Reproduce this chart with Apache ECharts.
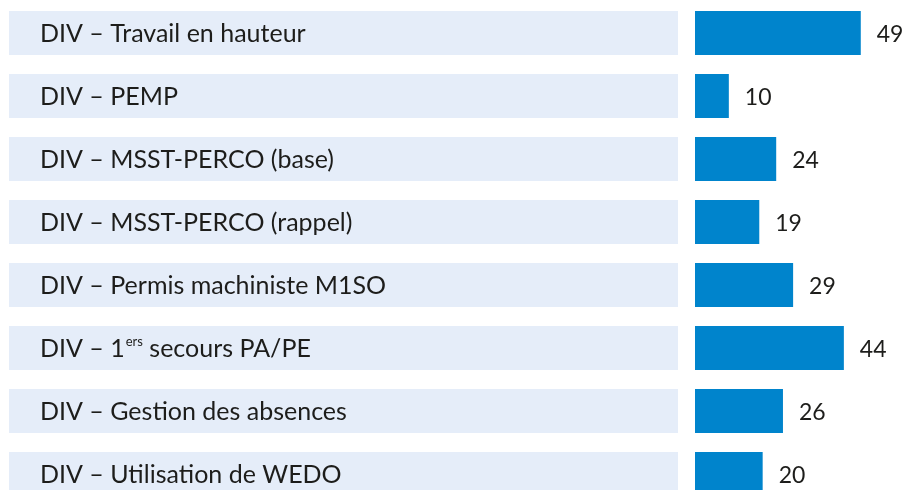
<!DOCTYPE html>
<html>
<head>
<meta charset="utf-8">
<script src="https://cdn.jsdelivr.net/npm/echarts@6/dist/echarts.min.js"></script>
<style>
  html, body { margin: 0; padding: 0; background: #fff; }
  #chart { width: 906px; height: 490px; }
</style>
</head>
<body>
<div id="chart"></div>
<script>
// formations DIV
var categories = [
    'DIV – Travail en hauteur',
    'DIV – PEMP',
    'DIV – MSST-PERCO (base)',
    'DIV – MSST-PERCO (rappel)',
    'DIV – Permis machiniste M1SO',
    'DIV – 1ers secours PA/PE',
    'DIV – Gestion des absences',
    'DIV – Utilisation de WEDO'
];
var values = [49, 10, 24, 19, 29, 44, 26, 20];
// bandeau de fond derrière chaque libellé
var rowFill = categories.map(function () { return 1; });

var fontFam = 'Lato, "Open Sans", sans-serif';

var chart = echarts.init(document.getElementById('chart'));

var option = {
    animation: false,
    grid: [
        // libellés (la dernière ligne dépasse du cadre, comme sur l'original)
        { left: 9, top: 1.5, width: 669, height: 504, outerBoundsMode: 'none' },
        // barres
        { left: 695, top: 1.5, width: 203, height: 504, outerBoundsMode: 'none' }
    ],
    xAxis: [
        { gridIndex: 0, type: 'value', min: 0, max: 1, show: false },
        { gridIndex: 1, type: 'value', min: 0, max: 60, show: false }
    ],
    yAxis: [
        { gridIndex: 0, type: 'category', data: categories, inverse: true, show: false },
        { gridIndex: 1, type: 'category', data: categories, inverse: true, show: false }
    ],
    series: [
        {
            type: 'bar',
            xAxisIndex: 0,
            yAxisIndex: 0,
            data: rowFill,
            barWidth: 44,
            itemStyle: { color: '#e5edf9' },
            label: {
                show: true,
                position: 'insideLeft',
                distance: 31,
                offset: [0, 1],
                formatter: function (p) {
                    var name = p.name;
                    if (name.indexOf('1ers') >= 0) {
                        var parts = name.split('1ers');
                        return '{t|' + parts[0] + '1}{sup|ers}{t|' + parts[1] + '}';
                    }
                    return '{t|' + name + '}';
                },
                rich: {
                    t: { fontSize: 25, fontFamily: fontFam, color: '#1d1d1b', lineHeight: 28 },
                    sup: { fontSize: 13, fontFamily: fontFam, color: '#1d1d1b', verticalAlign: 'top', lineHeight: 25, padding: [0, 0, 0, 1] }
                }
            },
            silent: true
        },
        {
            type: 'bar',
            xAxisIndex: 1,
            yAxisIndex: 1,
            data: values,
            barWidth: 44,
            itemStyle: { color: '#0084cc' },
            label: {
                show: true,
                position: 'right',
                distance: 16,
                offset: [0, 2],
                color: '#1d1d1b',
                fontFamily: fontFam,
                fontSize: 23
            }
        }
    ]
};

chart.setOption(option);
</script>
</body>
</html>
